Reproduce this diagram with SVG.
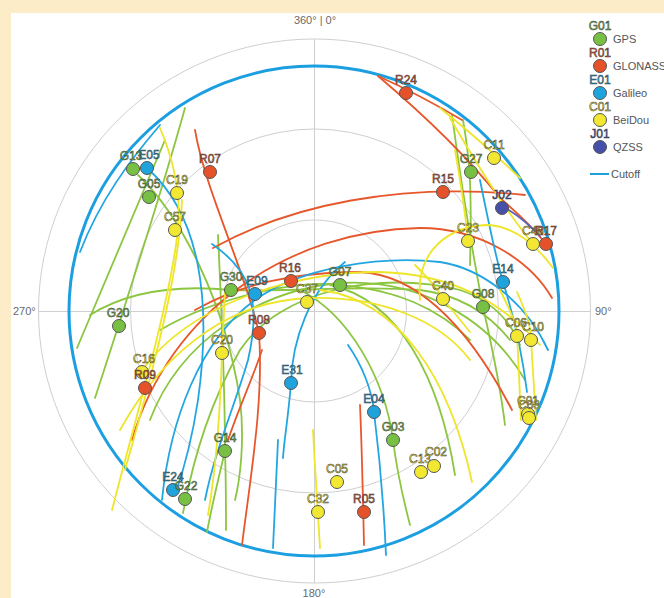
<svg xmlns="http://www.w3.org/2000/svg" width="664" height="598" viewBox="0 0 664 598">
<style>
.grid{fill:none;stroke:#cfcfcf;stroke-width:1}
.axl{font-family:"Liberation Sans",Arial,sans-serif;font-size:11px;fill:#6a6a6a}
.cut{fill:none;stroke:#1c9fe0;stroke-width:3}
.trk path{fill:none;stroke-width:1.8;stroke-linecap:round}
.tg{stroke:#8cc640}.tr{stroke:#e6582c}.tb{stroke:#22a6e2}.ty{stroke:#eee52a}.tq{stroke:#5a5fb8}
.sat circle{stroke:#555;stroke-width:1}
.sat text{font-family:"Liberation Sans",Arial,sans-serif;font-size:12px;text-anchor:middle;stroke:#3a3a3a;stroke-width:0.5}
.gps circle,.gps text{fill:#78c043}
.glo circle,.glo text{fill:#e5522a}
.gal circle,.gal text{fill:#1ea3dc}
.bds circle,.bds text{fill:#f2e832}
.qzs circle,.qzs text{fill:#4650a8}
.leg{font-family:"Liberation Sans",Arial,sans-serif;font-size:11px;fill:#555}
</style>
<rect width="664" height="598" fill="#fdecc8"/>
<rect x="11" y="13" width="653" height="585" fill="#ffffff"/>
<g id="grid">
<ellipse class="grid" cx="314.5" cy="311" rx="276" ry="272"/>
<ellipse class="grid" cx="314.5" cy="311" rx="184" ry="182"/>
<ellipse class="grid" cx="314.5" cy="311" rx="92" ry="91"/>
<line class="grid" x1="314.5" y1="39" x2="314.5" y2="583"/>
<line class="grid" x1="38" y1="311.5" x2="591" y2="311.5"/>
<text class="axl" x="315" y="24" text-anchor="middle">360° | 0°</text>
<text class="axl" x="13" y="315">270°</text>
<text class="axl" x="595" y="315">90°</text>
<text class="axl" x="314" y="597" text-anchor="middle">180°</text>
</g>
<ellipse id="cutoff" class="cut" cx="314" cy="311" rx="245" ry="245"/>
<g id="tracks" class="trk">
<path class="tg" d="M185,108 C165,180 140,260 95,398"/>
<path class="tg" d="M165,140 C140,200 110,270 77,348"/>
<path class="tg" d="M138,175 C180,215 225,300 240,400 C245,440 240,480 235,500"/>
<path class="tg" d="M218,235 C222,320 225,400 225,451 C226,480 226,510 226,530"/>
<path class="tg" d="M183,513 C195,450 212,400 240,350 C280,290 380,270 460,290 C490,300 510,320 520,345"/>
<path class="tg" d="M225,451 C218,480 212,505 207,532"/>
<path class="tg" d="M150,420 C180,340 260,290 340,283 C420,278 490,320 525,380"/>
<path class="tg" d="M90,315 C130,290 180,285 231,290 C300,292 360,285 420,290 C460,295 490,315 510,340"/>
<path class="tg" d="M160,330 C220,295 300,280 340,285 C400,290 440,310 470,340"/>
<path class="tg" d="M300,290 C350,315 385,380 393,440 C398,480 405,505 410,525"/>
<path class="tg" d="M330,285 C400,300 440,380 455,475"/>
<path class="tg" d="M452,115 C462,190 472,250 483,307 C495,360 502,400 505,425"/>
<path class="tg" d="M463,120 C470,160 472,190 470,265"/>
<path class="tr" d="M378,76 Q420,95 462,120"/>
<path class="tr" d="M378,76 C430,120 470,160 500,198 C520,215 535,230 546,244"/>
<path class="tr" d="M213,248 C290,205 400,182 525,195"/>
<path class="tr" d="M132,440 C170,310 290,230 420,228 C480,228 530,260 552,298"/>
<path class="tr" d="M195,310 C240,285 290,272 360,272 C420,275 470,330 512,410"/>
<path class="tr" d="M195,130 C205,190 245,270 259,333 C264,400 250,480 242,545"/>
<path class="tr" d="M262,350 C252,380 240,405 228,440"/>
<path class="tr" d="M360,405 C362,450 363,500 364,545"/>
<path class="tb" d="M160,125 C130,160 100,200 80,252"/>
<path class="tb" d="M147,168 C200,215 212,300 198,400 C192,440 182,475 175,495"/>
<path class="tb" d="M212,244 C250,270 262,300 248,360 C235,405 215,450 205,500"/>
<path class="tb" d="M162,500 C170,420 200,340 255,300 C300,268 380,255 440,262 C480,268 525,300 548,350"/>
<path class="tb" d="M480,180 C490,230 498,265 503,282 C515,320 523,360 527,392"/>
<path class="tb" d="M345,262 C310,290 292,340 291,383 C288,420 284,440 283,458"/>
<path class="tb" d="M278,440 C276,480 274,520 273,548"/>
<path class="tb" d="M348,345 C362,365 372,390 374,412 C380,460 384,510 386,555"/>
<path class="ty" d="M160,128 C178,170 182,210 176,245 C165,320 135,420 112,510"/>
<path class="ty" d="M182,200 C180,260 162,340 125,470"/>
<path class="ty" d="M143,369 C190,305 290,272 380,272 C450,274 500,300 540,345"/>
<path class="ty" d="M120,430 C170,340 240,300 310,298 C380,296 440,320 470,360"/>
<path class="ty" d="M225,290 C224,320 222,340 222,353 C220,420 214,480 208,515"/>
<path class="ty" d="M440,108 Q480,140 520,178"/>
<path class="ty" d="M450,118 C480,170 505,210 533,244"/>
<path class="ty" d="M420,300 C415,250 450,225 490,225 C520,228 540,250 553,268"/>
<path class="ty" d="M455,150 C462,190 466,220 468,241"/>
<path class="ty" d="M415,265 C430,280 440,292 443,299 C452,310 462,322 470,332"/>
<path class="ty" d="M500,290 C510,310 517,325 517,336 C519,370 520,400 521,420"/>
<path class="ty" d="M517,292 C525,310 531,325 531,340 C533,370 535,400 536,420"/>
<path class="ty" d="M313,430 C315,470 318,512 320,548"/>
<path class="ty" d="M320,290 C400,300 450,380 472,482"/>
<path class="tq" d="M500,205 Q520,215 540,236"/>
</g>
<g id="sat-G13" class="sat gps"><circle cx="133" cy="169" r="6.5"/><text x="131" y="160">G13</text></g>
<g id="sat-E05" class="sat gal"><circle cx="147" cy="168" r="6.5"/><text x="149" y="159">E05</text></g>
<g id="sat-G05" class="sat gps"><circle cx="149" cy="197" r="6.5"/><text x="149" y="188">G05</text></g>
<g id="sat-C19" class="sat bds"><circle cx="177" cy="193" r="6.5"/><text x="177" y="184">C19</text></g>
<g id="sat-C57" class="sat bds"><circle cx="175" cy="230" r="6.5"/><text x="175" y="221">C57</text></g>
<g id="sat-R07" class="sat glo"><circle cx="210" cy="172" r="6.5"/><text x="210" y="163">R07</text></g>
<g id="sat-R24" class="sat glo"><circle cx="406" cy="93" r="6.5"/><text x="406" y="84">R24</text></g>
<g id="sat-C11" class="sat bds"><circle cx="494" cy="158" r="6.5"/><text x="494" y="149">C11</text></g>
<g id="sat-G27" class="sat gps"><circle cx="471" cy="172" r="6.5"/><text x="471" y="163">G27</text></g>
<g id="sat-R15" class="sat glo"><circle cx="443" cy="192" r="6.5"/><text x="443" y="183">R15</text></g>
<g id="sat-J02" class="sat qzs"><circle cx="502" cy="208" r="6.5"/><text x="502" y="199">J02</text></g>
<g id="sat-C23" class="sat bds"><circle cx="468" cy="241" r="6.5"/><text x="468" y="232">C23</text></g>
<g id="sat-C46" class="sat bds"><circle cx="533" cy="244" r="6.5"/><text x="533" y="235">C46</text></g>
<g id="sat-R17" class="sat glo"><circle cx="546" cy="244" r="6.5"/><text x="546" y="235">R17</text></g>
<g id="sat-E14" class="sat gal"><circle cx="503" cy="282" r="6.5"/><text x="503" y="273">E14</text></g>
<g id="sat-C40" class="sat bds"><circle cx="443" cy="299" r="6.5"/><text x="443" y="290">C40</text></g>
<g id="sat-G08" class="sat gps"><circle cx="483" cy="307" r="6.5"/><text x="483" y="298">G08</text></g>
<g id="sat-C06" class="sat bds"><circle cx="517" cy="336" r="6.5"/><text x="516" y="327">C06</text></g>
<g id="sat-C10" class="sat bds"><circle cx="531" cy="340" r="6.5"/><text x="533" y="331">C10</text></g>
<g id="sat-C01" class="sat bds"><circle cx="528" cy="414" r="6.5"/><text x="528" y="405">C01</text></g>
<g id="sat-C03" class="sat bds"><circle cx="529" cy="418" r="6.5"/><text x="529" y="409">C03</text></g>
<g id="sat-G30" class="sat gps"><circle cx="231" cy="290" r="6.5"/><text x="231" y="281">G30</text></g>
<g id="sat-E09" class="sat gal"><circle cx="255" cy="294" r="6.5"/><text x="257" y="285">E09</text></g>
<g id="sat-R16" class="sat glo"><circle cx="291" cy="281" r="6.5"/><text x="290" y="272">R16</text></g>
<g id="sat-G07" class="sat gps"><circle cx="340" cy="285" r="6.5"/><text x="340" y="276">G07</text></g>
<g id="sat-C37" class="sat bds"><circle cx="307" cy="302" r="6.5"/><text x="307" y="293">C37</text></g>
<g id="sat-R08" class="sat glo"><circle cx="259" cy="333" r="6.5"/><text x="259" y="324">R08</text></g>
<g id="sat-C20" class="sat bds"><circle cx="222" cy="353" r="6.5"/><text x="222" y="344">C20</text></g>
<g id="sat-G20" class="sat gps"><circle cx="119" cy="326" r="6.5"/><text x="118" y="317">G20</text></g>
<g id="sat-C16" class="sat bds"><circle cx="142" cy="372" r="6.5"/><text x="144" y="363">C16</text></g>
<g id="sat-R09" class="sat glo"><circle cx="145" cy="388" r="6.5"/><text x="145" y="379">R09</text></g>
<g id="sat-E31" class="sat gal"><circle cx="291" cy="383" r="6.5"/><text x="292" y="374">E31</text></g>
<g id="sat-E04" class="sat gal"><circle cx="374" cy="412" r="6.5"/><text x="374" y="403">E04</text></g>
<g id="sat-G03" class="sat gps"><circle cx="393" cy="440" r="6.5"/><text x="393" y="431">G03</text></g>
<g id="sat-C13" class="sat bds"><circle cx="421" cy="472" r="6.5"/><text x="420" y="463">C13</text></g>
<g id="sat-C02" class="sat bds"><circle cx="434" cy="466" r="6.5"/><text x="436" y="456">C02</text></g>
<g id="sat-C05" class="sat bds"><circle cx="337" cy="482" r="6.5"/><text x="337" y="473">C05</text></g>
<g id="sat-C32" class="sat bds"><circle cx="318" cy="512" r="6.5"/><text x="318" y="503">C32</text></g>
<g id="sat-R05" class="sat glo"><circle cx="364" cy="512" r="6.5"/><text x="364" y="503">R05</text></g>
<g id="sat-G14" class="sat gps"><circle cx="225" cy="451" r="6.5"/><text x="225" y="442">G14</text></g>
<g id="sat-E24" class="sat gal"><circle cx="173" cy="490" r="6.5"/><text x="173" y="481">E24</text></g>
<g id="sat-G22" class="sat gps"><circle cx="185" cy="499" r="6.5"/><text x="186" y="490">G22</text></g>
<g id="legend">
<g id="leg-gps" class="sat gps"><circle cx="600" cy="39" r="6.5"/><text x="600" y="30">G01</text></g>
<text class="leg" x="613" y="43">GPS</text>
<g id="leg-glo" class="sat glo"><circle cx="600" cy="66" r="6.5"/><text x="600" y="57">R01</text></g>
<text class="leg" x="613" y="70">GLONASS</text>
<g id="leg-gal" class="sat gal"><circle cx="600" cy="93" r="6.5"/><text x="600" y="84">E01</text></g>
<text class="leg" x="613" y="97">Galileo</text>
<g id="leg-bds" class="sat bds"><circle cx="600" cy="120" r="6.5"/><text x="600" y="111">C01</text></g>
<text class="leg" x="613" y="124">BeiDou</text>
<g id="leg-qzs" class="sat qzs"><circle cx="600" cy="147" r="6.5"/><text x="600" y="138">J01</text></g>
<text class="leg" x="613" y="151">QZSS</text>
<line x1="590" y1="174" x2="609" y2="174" stroke="#1c9fe0" stroke-width="2"/>
<text class="leg" x="611" y="178">Cutoff</text>
</g>
</svg>
